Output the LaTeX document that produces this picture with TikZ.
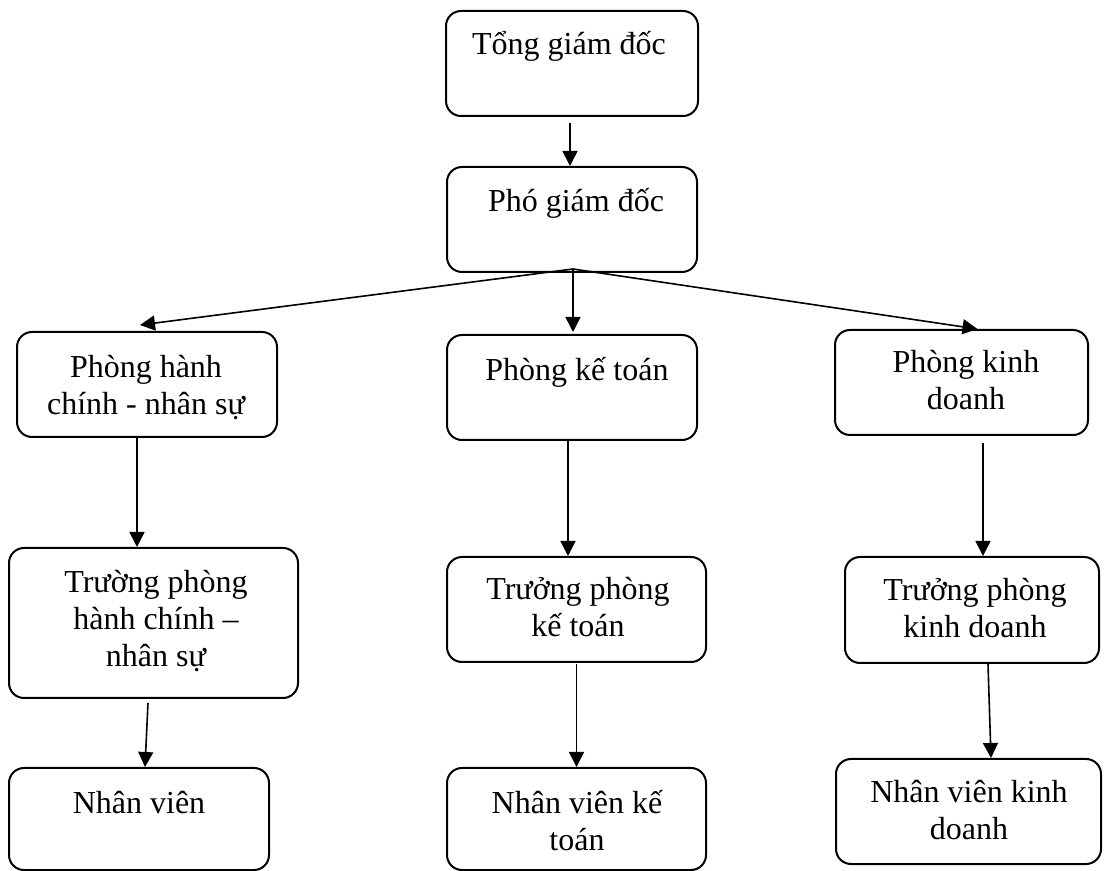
\documentclass[tikz,border=0pt]{standalone}
\usepackage{fontspec}
\setmainfont{Liberation Serif}
\usetikzlibrary{arrows.meta}
\begin{document}
\begin{tikzpicture}[x=0.5pt,y=-0.5pt,
  box/.style={draw, line width=1pt, rounded corners=7.5pt, inner sep=0pt},
  txt/.style={font=\fontsize{16pt}{18.5pt}\selectfont, align=center, anchor=base, inner sep=0pt},
  arr/.style={-{Triangle[length=7.5pt,width=7.5pt]}, line width=0.8pt}]
\useasboundingbox (0,0) rectangle (1115,871);

% boxes
\node[box, minimum width=126pt,   minimum height=52.5pt] (tong) at (572,63.5)  {};
\node[box, minimum width=125pt,   minimum height=52.5pt] (pho)  at (572,219.5) {};
\node[box, minimum width=130pt,   minimum height=52.5pt] (phc)  at (147,384.5) {};
\node[box, minimum width=125pt,   minimum height=52.5pt] (pkt)  at (572,387.5) {};
\node[box, minimum width=126.5pt, minimum height=52.5pt] (pkd)  at (961.5,382.5) {};
\node[box, minimum width=144.5pt, minimum height=75pt]   (tphc) at (153.5,623) {};
\node[box, minimum width=129.5pt, minimum height=52.5pt] (tpkt) at (576.5,609.5) {};
\node[box, minimum width=127pt,   minimum height=53pt]   (tpkd) at (972,610) {};
\node[box, minimum width=130pt,   minimum height=51pt]   (nv)   at (139,819) {};
\node[box, minimum width=129.5pt, minimum height=51pt]   (nvkt) at (576.5,819) {};
\node[box, minimum width=132.5pt, minimum height=52.5pt] (nvkd) at (968.5,811.5) {};

% labels (base anchor sits on the last line)
\node[txt] (ltong) at (569,55)  {Tổng giám đốc};
\node[txt] (lpho)  at (576,212) {Phó giám đốc};
\node[txt] (lphc)  at (146,415) {Phòng hành\\chính - nhân sự};
\node[txt] (lpkt)  at (577,381) {Phòng kế toán};
\node[txt] (lpkd)  at (966,410) {Phòng kinh\\doanh};
\node[txt] (ltphc) at (156,667) {Trường phòng\\hành chính –\\nhân sự};
\node[txt] (ltpkt) at (578,637) {Trưởng phòng\\kế toán};
\node[txt] (ltpkd) at (975,638) {Trưởng phòng\\kinh doanh};
\node[txt] (lnv)   at (139,813) {Nhân viên};
\node[txt] (lnvkt) at (577,850) {Nhân viên kế\\toán};
\node[txt] (lnvkd) at (969,840) {Nhân viên kinh\\doanh};

% connectors
\draw[arr] ([xshift=-1pt,yshift=-3pt]tong.south) -- ([xshift=-1pt]pho.north);
\coordinate (fan) at ([xshift=0.5pt,yshift=2pt]pho.south);
\draw[arr] (fan) -- ([xshift=-3.5pt,yshift=3pt]phc.north);
\draw[arr] (fan) -- ([xshift=0.5pt,yshift=1pt]pkt.north);
\draw[arr] (fan) -- ([xshift=8pt]pkd.north);
\draw[arr] ([xshift=-5pt]phc.south) -- ([xshift=-5pt]phc.south |- tphc.north);
\draw[arr] ([xshift=-2pt]pkt.south) -- ([xshift=-2pt]pkt.south |- tpkt.north);
\draw[arr] ([xshift=10.75pt,yshift=-3.5pt]pkd.south) -- ([xshift=10.75pt]pkd.south |- tpkd.north);
\draw[arr] ([xshift=-2.75pt,yshift=-2pt]tphc.south) -- ([xshift=3pt]nv.north);
\draw[arr] ([yshift=-0.5pt]tpkt.south) -- (nvkt.north);
\draw[arr] ([xshift=8pt]tpkd.south) -- ([xshift=11.25pt]nvkd.north);
\end{tikzpicture}
\end{document}
